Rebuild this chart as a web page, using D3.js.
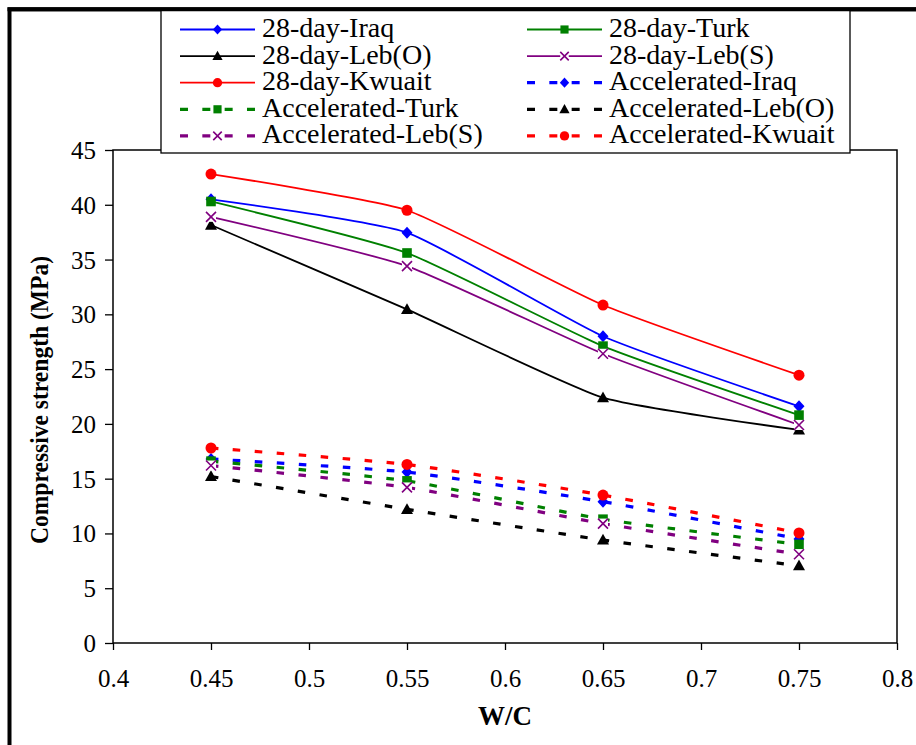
<!DOCTYPE html>
<html>
<head>
<meta charset="utf-8">
<script src="https://cdn.jsdelivr.net/npm/d3@7"></script>
<style>
  body { margin: 0; background: #fff; }
  svg { display: block; }
  svg text { font-family: 'Liberation Serif' !important; }
</style>
</head>
<body>
<svg id="chart" width="916" height="745"></svg>
<script>
// ---- data ----
const wc = [0.45, 0.55, 0.65, 0.75];
const d28Iraq   = [40.5, 37.45, 28.0, 21.6];
const d28Turk   = [40.3, 35.6, 27.1, 20.8];
const d28LebO   = [38.15, 30.45, 22.4, 19.45];
const d28LebS   = [38.9, 34.4, 26.4, 19.9];
const d28Kwuait = [42.8, 39.5, 30.85, 24.45];
const accIraq   = [16.8, 15.6, 12.9, 9.5];
const accTurk   = [16.6, 14.8, 11.3, 9.0];
const accLebO   = [15.2, 12.2, 9.4, 7.05];
const accLebS   = [16.2, 14.2, 10.9, 8.1];
const accKwuait = [17.8, 16.3, 13.5, 10.05];
const xTicks = [0.4, 0.45, 0.5, 0.55, 0.6, 0.65, 0.7, 0.75, 0.8];
const yTicks = [0, 5, 10, 15, 20, 25, 30, 35, 40, 45];
const seriesNames = ["28-day-Iraq", "28-day-Turk", "28-day-Leb(O)", "28-day-Leb(S)", "28-day-Kwuait",
  "Accelerated-Iraq", "Accelerated-Turk", "Accelerated-Leb(O)", "Accelerated-Leb(S)", "Accelerated-Kwuait"];
const seriesValues = [d28Iraq, d28Turk, d28LebO, d28LebS, d28Kwuait, accIraq, accTurk, accLebO, accLebS, accKwuait];
const seriesColors = ["#0000FF", "#008000", "#000000", "#800080", "#FF0000",
  "#0000FF", "#008000", "#000000", "#800080", "#FF0000"];
const seriesShapes = ["diamond", "square", "triangle", "x", "circle",
  "diamond", "square", "triangle", "x", "circle"];
const seriesDashed = [false, false, false, false, false, true, true, true, true, true];

// ---- layout ----
const svg = d3.select("#chart");
const L = 113, R = 897, T = 150, B = 643;
const x = d3.scaleLinear().domain([0.4, 0.8]).range([L, R]);
const y = d3.scaleLinear().domain([0, 45]).range([B, T]);

function serif(sel) { return sel.style("font-family", "'Liberation Serif'"); }

svg.append("rect").attr("width", 916).attr("height", 745).attr("fill", "#fff");

// outer frame
svg.append("rect").attr("x", 9.5).attr("y", 9.3).attr("width", 1000).attr("height", 1000)
  .attr("fill", "none").attr("stroke", "#000").attr("stroke-width", 4);

// plot box
svg.append("rect").attr("x", L).attr("y", T).attr("width", R - L).attr("height", B - T)
  .attr("fill", "#fff").attr("stroke", "#000").attr("stroke-width", 1.5);

// axes
const yAxis = d3.axisLeft(y).tickValues(yTicks).tickSize(8).tickPadding(9).tickFormat(d3.format("d"));
const gy = svg.append("g").attr("transform", `translate(${L},0)`).call(yAxis);
const xAxis = d3.axisBottom(x).tickValues(xTicks).tickSize(7).tickPadding(19).tickFormat(d => String(d));
const gx = svg.append("g").attr("transform", `translate(0,${B})`).call(xAxis);
[gx, gy].forEach(g => {
  g.attr("font-family", null).attr("font-size", null);
  g.select(".domain").remove();
  g.selectAll(".tick line").attr("stroke", "#000").attr("stroke-width", 1.3);
  serif(g.selectAll(".tick text")).attr("fill", "#000").style("font-size", "25px");
});
gy.selectAll(".tick text").attr("dy", "0.34em");

// axis titles
serif(svg.append("text")).attr("x", (L + R) / 2).attr("y", 725).attr("text-anchor", "middle")
  .style("font-size", "27px").style("font-weight", "bold").text("W/C");
serif(svg.append("text")).attr("transform", "translate(48,400) rotate(-90)").attr("text-anchor", "middle")
  .style("font-size", "25px").style("font-weight", "bold")
  .attr("textLength", 288).attr("lengthAdjust", "spacingAndGlyphs")
  .text("Compressive strength (MPa)");

// marker drawing
function drawMarker(g, shape, color, cx, cy, s) {
  s = s || 1;
  if (shape === "diamond") {
    g.append("path").attr("d", `M${cx},${cy - 6 * s}L${cx + 5.5 * s},${cy}L${cx},${cy + 6 * s}L${cx - 5.5 * s},${cy}Z`).attr("fill", color);
  } else if (shape === "square") {
    g.append("rect").attr("x", cx - 4.8 * s).attr("y", cy - 4.8 * s).attr("width", 9.6 * s).attr("height", 9.6 * s).attr("fill", color);
  } else if (shape === "triangle") {
    g.append("path").attr("d", `M${cx},${cy - 6.2 * s}L${cx + 6 * s},${cy + 4.6 * s}L${cx - 6 * s},${cy + 4.6 * s}Z`).attr("fill", color);
  } else if (shape === "circle") {
    g.append("circle").attr("cx", cx).attr("cy", cy).attr("r", 5.5 * s).attr("fill", color);
  } else if (shape === "x") {
    const h = 5 * s;
    g.append("rect").attr("x", cx - h).attr("y", cy - h).attr("width", 2 * h).attr("height", 2 * h).attr("fill", "#fff");
    g.append("path").attr("d", `M${cx - h},${cy - h}L${cx + h},${cy + h}M${cx - h},${cy + h}L${cx + h},${cy - h}`)
      .attr("stroke", color).attr("stroke-width", 1.6).attr("fill", "none");
  }
}

// series
const line = d3.line().x(d => x(d[0])).y(d => y(d[1])).curve(d3.curveCardinal.tension(0.5));
const plot = svg.append("g");
seriesValues.forEach((vals, i) => {
  const pts = wc.map((w, j) => [w, vals[j]]);
  const g = plot.append("g");
  g.append("path").attr("d", line(pts)).attr("fill", "none").attr("stroke", seriesColors[i])
    .attr("stroke-width", seriesDashed[i] ? 3.2 : 1.8)
    .attr("stroke-dasharray", seriesDashed[i] ? "7.5,14.5" : null);
  pts.forEach(p => drawMarker(g, seriesShapes[i], seriesColors[i], x(p[0]), y(p[1])));
});

// legend
const leg = svg.append("g");
leg.append("rect").attr("x", 161).attr("y", 9.5).attr("width", 689).attr("height", 143.5)
  .attr("fill", "#fff").attr("stroke", "#000").attr("stroke-width", 1.3);
// re-draw frame top over legend
svg.append("line").attr("x1", 7.5).attr("x2", 916).attr("y1", 9.3).attr("y2", 9.3)
  .attr("stroke", "#000").attr("stroke-width", 4);
seriesNames.forEach((name, i) => {
  const col = i % 2, row = Math.floor(i / 2);
  const x0 = col === 0 ? 180 : 527;
  const ry = 29.5 + row * 26.6;
  const g = leg.append("g");
  g.append("line").attr("x1", x0).attr("x2", x0 + 75).attr("y1", ry).attr("y2", ry)
    .attr("stroke", seriesColors[i]).attr("stroke-width", seriesDashed[i] ? 3.2 : 1.8)
    .attr("stroke-dasharray", seriesDashed[i] ? "8,14.33" : null);
  drawMarker(g, seriesShapes[i], seriesColors[i], x0 + 37.5, ry, 0.85);
  serif(g.append("text")).attr("x", x0 + 82).attr("y", ry + 7.5)
    .style("font-size", "28px").attr("fill", "#000").text(name);
});
</script>
</body>
</html>
